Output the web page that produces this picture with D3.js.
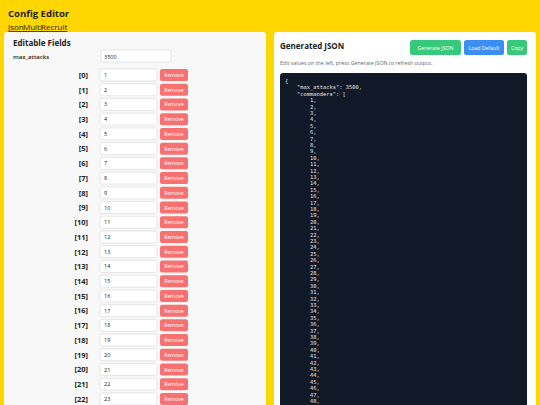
<!DOCTYPE html>
<html><head><meta charset="utf-8">
<script src="https://cdn.jsdelivr.net/npm/d3@7"></script>
<style>body{margin:0;background:#FFD600;overflow:hidden}</style></head>
<body><div id="c"></div>
<script>
const maxAttacks = 3500;
const indices = [0,1,2,3,4,5,6,7,8,9,10,11,12,13,14,15,16,17,18,19,20,21,22];
const commanders = [1,2,3,4,5,6,7,8,9,10,11,12,13,14,15,16,17,18,19,20,21,22,23];
const jsonValues = [1,2,3,4,5,6,7,8,9,10,11,12,13,14,15,16,17,18,19,20,21,22,23,24,25,26,27,28,29,30,31,32,33,34,35,36,37,38,39,40,41,42,43,44,45,46,47,48];
const links = ["Json","Multi","Recruit"];
const buttons = [{t:"Generate JSON",c:"#35C97A"},{t:"Load Default",c:"#3B8EF2"},{t:"Copy",c:"#35C97A"}];

const W=540,H=405,F="Open Sans, DejaVu Sans, sans-serif",M="DejaVu Sans Mono, monospace";
const svg=d3.select("#c").append("svg").attr("width",W).attr("height",H);
svg.append("rect").attr("width",W).attr("height",H).attr("fill","#FFD600");
svg.append("text").attr("x",8).attr("y",17).attr("font-family",F).attr("font-weight",700).attr("font-size",9.5).attr("fill","#222").text("Config Editor");
const lx=[8,23,41];
links.forEach((l,i)=>svg.append("text").attr("x",lx[i]).attr("y",30).attr("font-family",F).attr("font-size",8).attr("fill","#222").attr("text-decoration","underline").text(l));
// left panel
svg.append("rect").attr("x",4).attr("y",32).attr("width",262).attr("height",400).attr("rx",3).attr("fill","#F8F8F8");
svg.append("text").attr("x",13).attr("y",46).attr("font-family",F).attr("font-weight",700).attr("font-size",8).attr("fill","#222").text("Editable Fields");
svg.append("text").attr("x",13).attr("y",59).attr("font-family",F).attr("font-weight",600).attr("font-size",6).attr("fill","#222").text("max_attacks");
svg.append("rect").attr("x",101).attr("y",50).attr("width",70).attr("height",12).attr("rx",2).attr("fill","#fff").attr("stroke","#ddd").attr("stroke-width",0.7);
svg.append("text").attr("x",104).attr("y",58.5).attr("font-family",F).attr("font-size",5.5).attr("fill","#222").text(maxAttacks);
const y=d3.scaleLinear().domain([0,22]).range([75,399]);
const rows=svg.selectAll("g.row").data(indices).join("g").attr("transform",d=>`translate(0,${y(d)})`);
rows.append("text").attr("x",88).attr("y",2.8).attr("text-anchor","end").attr("font-family",F).attr("font-weight",700).attr("font-size",7.5).attr("fill","#222").text(d=>`[${d}]`);
rows.append("rect").attr("x",100).attr("y",-6).attr("width",57).attr("height",12).attr("rx",2).attr("fill","#fff").attr("stroke","#ddd").attr("stroke-width",0.7);
rows.append("text").attr("x",104).attr("y",2).attr("font-family",F).attr("font-size",5.5).attr("fill","#222").text((d,i)=>commanders[i]);
rows.append("rect").attr("x",160).attr("y",-6).attr("width",28).attr("height",12).attr("rx",2).attr("fill","#F87171");
rows.append("text").attr("x",174).attr("y",2).attr("text-anchor","middle").attr("font-family",F).attr("font-size",5.2).attr("fill","#fff").text("Remove");
// right panel
svg.append("rect").attr("x",274).attr("y",32).attr("width",262).attr("height",400).attr("rx",3).attr("fill","#fff");
svg.append("text").attr("x",280).attr("y",49).attr("font-family",F).attr("font-weight",700).attr("font-size",8).attr("fill","#222").text("Generated JSON");
const bx=[410,464,507],bw=[51,40,20];
buttons.forEach((b,i)=>{svg.append("rect").attr("x",bx[i]).attr("y",40).attr("width",bw[i]).attr("height",15).attr("rx",2.5).attr("fill",b.c);
svg.append("text").attr("x",bx[i]+bw[i]/2).attr("y",50).attr("text-anchor","middle").attr("font-family",F).attr("font-size",5.2).attr("fill","#fff").text(b.t);});
svg.append("text").attr("x",280).attr("y",65).attr("font-family",F).attr("font-size",5.3).attr("fill","#666").text("Edit values on the left, press Generate JSON to refresh output.");
svg.append("rect").attr("x",280).attr("y",73).attr("width",247).attr("height",360).attr("rx",3).attr("fill","#111827");
const lines=[{x:285,t:"{"},{x:297,t:`"max_attacks": ${maxAttacks},`},{x:297,t:`"commanders": [`}].concat(jsonValues.map(v=>({x:310,t:v+","})));
const ly=d3.scaleLinear().domain([0,1]).range([83,89.4]);
svg.selectAll("text.code").data(lines).join("text").attr("class","code").attr("x",d=>d.x).attr("y",(d,i)=>ly(i)).attr("font-family",M).attr("font-size",5.4).attr("fill","#E5E7EB").attr("xml:space","preserve").text(d=>d.t);
</script></body></html>
